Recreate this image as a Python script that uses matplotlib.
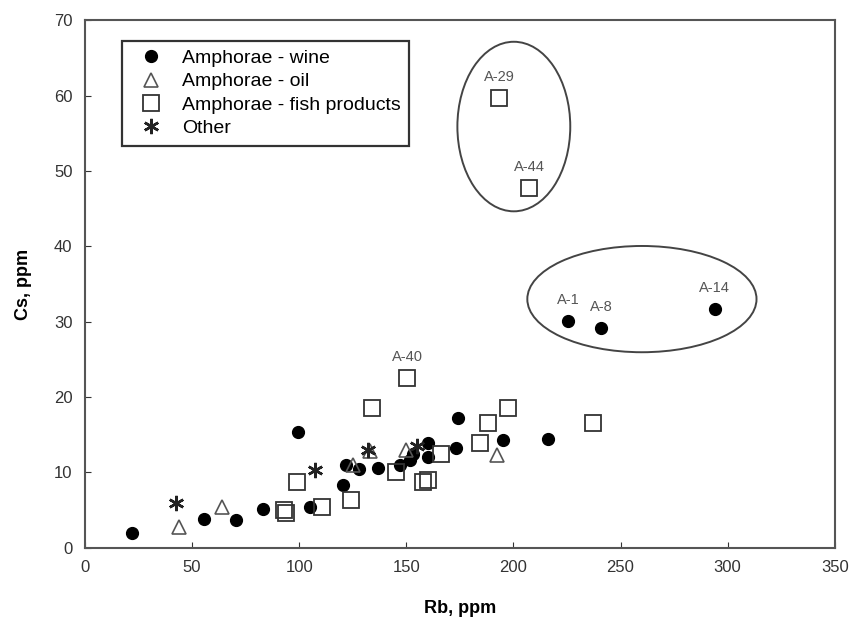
import matplotlib
matplotlib.use("Agg")
import matplotlib.pyplot as plt
from matplotlib.patches import Ellipse

plt.rcParams["font.family"] = ["Liberation Sans", "DejaVu Sans"]

# ---------------- data (Rb, Cs in ppm)
wine_rb = [22, 55.5, 70.5, 83, 105, 99.5, 120.5, 122, 128, 137, 147, 151.5, 153,
           160, 160, 173, 174, 195, 216, 225.5, 241, 294]
wine_cs = [2.0, 3.8, 3.7, 5.1, 5.4, 15.3, 8.3, 11.0, 10.5, 10.6, 11.0, 11.6, 12.5,
           13.9, 12.0, 13.2, 17.2, 14.3, 14.5, 30.1, 29.2, 31.7]

oil_rb = [44, 64, 125, 133, 150, 192.5]
oil_cs = [2.8, 5.4, 11.0, 12.9, 13.0, 12.3]

fish_rb = [93, 94, 99, 110.7, 124, 134, 145, 150.5, 158, 160, 166, 184.5, 188,
           197.6, 237, 193.5, 207.5]
fish_cs = [5.0, 4.6, 8.7, 5.4, 6.3, 18.6, 10.0, 22.5, 8.7, 9.0, 12.5, 13.9, 16.6,
           18.6, 16.5, 59.7, 47.8]

other_rb = [42.5, 107.5, 132, 155]
other_cs = [6.0, 10.3, 13.0, 13.5]

# labelled samples
lab_names = ["A-29", "A-44", "A-40", "A-1", "A-8", "A-14"]
lab_rb = [193.5, 207.5, 150.5, 225.5, 241, 294]
lab_cs = [59.7, 47.8, 22.5, 30.1, 29.2, 31.7]

# ellipses: centre (Rb, Cs), width, height
ell_centres = [(200.2, 55.9), (260.0, 33.0)]
ell_sizes = [(52.7, 22.5), (107.0, 14.1)]

fig = plt.figure(figsize=(8.5, 6.34), dpi=100)
ax = fig.add_axes([0.1, 0.136, 0.882, 0.832])

ax.plot(wine_rb, wine_cs, "o", ms=8.5, color="black", label="Amphorae - wine", zorder=3)
ax.plot(oil_rb, oil_cs, "^", ms=10, mfc="none", mec="#555555", mew=1.2,
        label="Amphorae - oil", zorder=3)
ax.plot(fish_rb, fish_cs, "s", ms=12, mfc="none", mec="#333333", mew=1.3,
        label="Amphorae - fish products", zorder=3)
ax.plot(other_rb, other_cs, marker=(6, 2, 0), ls="none", ms=11, color="#222222",
        mew=1.8, label="Other", zorder=3)

for name, x, y in zip(lab_names, lab_rb, lab_cs):
    ax.annotate(name, (x, y), xytext=(0, 10), textcoords="offset points",
                ha="center", va="bottom", fontsize=10.5, color="#555555")

for (cx, cy), (w, h) in zip(ell_centres, ell_sizes):
    ax.add_patch(Ellipse((cx, cy), w, h, fill=False, ec="#444444", lw=1.4))

ax.set_xlim(0, 350)
ax.set_ylim(0, 70)
ax.set_xticks(range(0, 351, 50))
ax.set_yticks(range(0, 71, 10))
ax.tick_params(direction="in", labelsize=12, length=4, pad=9, colors="#333333")
for s in ax.spines.values():
    s.set_color("#555555")
    s.set_linewidth(1.5)

ax.set_xlabel("Rb, ppm", fontsize=13, fontweight="bold", labelpad=18)
ax.set_ylabel("Cs, ppm", fontsize=13, fontweight="bold", labelpad=16)

leg = ax.legend(loc="upper left", bbox_to_anchor=(0.037, 0.98), fontsize=14,
                frameon=True, fancybox=False, edgecolor="black", handletextpad=0.6,
                borderpad=0.45, labelspacing=0.3)
leg.get_frame().set_linewidth(1.6)

fig.savefig("out.png", dpi=100)
